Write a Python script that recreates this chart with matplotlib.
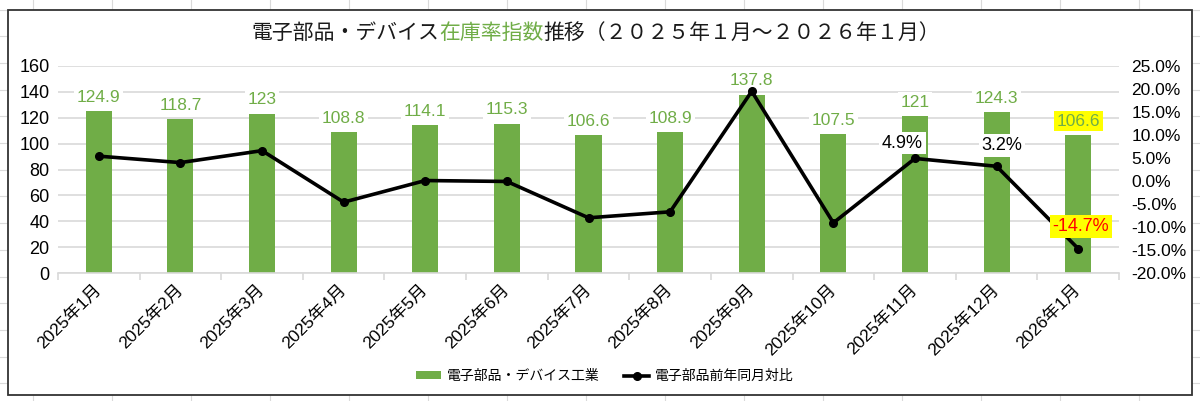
import matplotlib
matplotlib.use('Agg')
import matplotlib.pyplot as plt
from matplotlib.patches import Rectangle
from matplotlib.lines import Line2D
from matplotlib.ticker import FuncFormatter, MultipleLocator, FixedLocator

plt.rcParams['font.family'] = ['Liberation Sans', 'Noto Sans CJK JP', 'DejaVu Sans']

months = ['2025年1月', '2025年2月', '2025年3月', '2025年4月', '2025年5月', '2025年6月',
          '2025年7月', '2025年8月', '2025年9月', '2025年10月', '2025年11月', '2025年12月',
          '2026年1月']
index_values = [124.9, 118.7, 123, 108.8, 114.1, 115.3, 106.6, 108.9, 137.8, 107.5, 121, 124.3, 106.6]
yoy_values = [5.4, 4.0, 6.6, -4.6, 0.1, -0.1, -8.0, -6.7, 19.5, -9.1, 4.9, 3.2, -14.7]
yoy_shown = [10, 11, 12]  # months whose YoY value is labelled

bar_name = '電子部品・デバイス工業'
line_name = '電子部品前年同月対比'
title_parts = ['電子部品・デバイス', '在庫率指数', '推移（２０２５年１月～２０２６年１月）']

GREEN = '#70AD47'
GRID = '#D9D9D9'
W, H = 1200, 401


def main():
    fig = plt.figure(figsize=(12, 4.01), dpi=100)

    # spreadsheet cells behind the chart
    for k in range(16):
        x = (32.5 + 79 * k) / W
        fig.add_artist(Line2D([x, x], [0, 1], transform=fig.transFigure,
                              color='#DADADA', lw=0.8, zorder=0))
    for k in range(16):
        y = 1 - (9.6 + 26.7 * k) / H
        fig.add_artist(Line2D([0, 1], [y, y], transform=fig.transFigure,
                              color='#DADADA', lw=0.8, zorder=0))
    fig.add_artist(Rectangle((8 / W, 1 - 395 / H), 1184 / W, 385 / H,
                             transform=fig.transFigure, facecolor='white',
                             edgecolor='#333333', lw=1.3, zorder=0.5))

    ax = fig.add_axes([58 / W, 1 - 273 / H, 1061 / W, 207 / H])
    ax.set_zorder(2)
    ax.patch.set_visible(False)
    x = list(range(len(months)))

    ax.bar(x, index_values, width=0.32, color=GREEN, zorder=2, label=bar_name)
    ax.set_ylim(0, 160)
    ax.set_xlim(-0.5, len(months) - 0.5)
    ax.yaxis.set_major_locator(MultipleLocator(20))
    ax.grid(axis='y', color=GRID, lw=1.2, zorder=0)
    ax.set_axisbelow(True)
    for s in ['top', 'left', 'right']:
        ax.spines[s].set_visible(False)
    ax.spines['bottom'].set_color(GRID)
    ax.spines['bottom'].set_linewidth(1.2)
    ax.tick_params(axis='y', length=0, labelsize=13, pad=6)
    ax.set_xticks(x)
    ax.set_xticklabels(months, rotation=45, ha='right', va='center',
                       rotation_mode='anchor', fontsize=12.5)
    ax.tick_params(axis='x', length=0, pad=10)
    ax.xaxis.set_minor_locator(FixedLocator([i - 0.5 for i in range(len(months) + 1)]))
    ax.tick_params(axis='x', which='minor', length=5, color=GRID, width=1.2)

    for i, v in enumerate(index_values):
        face = '#FFFF00' if i == len(index_values) - 1 else 'white'
        ax.annotate(f'{v:g}', (i, v), xytext=(0, 10), textcoords='offset points',
                    ha='center', va='center', color=GREEN, fontsize=12.5, zorder=3,
                    bbox=dict(boxstyle='square,pad=0.15', fc=face, ec='none'))

    ax2 = ax.twinx()
    ax2.set_zorder(3)
    ax2.patch.set_visible(False)
    ax2.plot(x, yoy_values, color='black', lw=2.6, marker='o', markersize=5.5,
             label=line_name, zorder=3)
    ax2.set_ylim(-20, 25)
    ax2.yaxis.set_major_locator(MultipleLocator(5))
    ax2.yaxis.set_major_formatter(FuncFormatter(lambda v, p: f'{v:.1f}%'))
    ax2.tick_params(axis='y', length=0, labelsize=12.5, pad=9)
    for s in ['top', 'left', 'right', 'bottom']:
        ax2.spines[s].set_visible(False)

    offsets = {10: (-9, 11), 11: (4, 15), 12: (2, 16)}
    for i in yoy_shown:
        last = i == len(yoy_values) - 1
        ax2.annotate(f'{yoy_values[i]:.1f}%', (i, yoy_values[i]), xytext=offsets[i],
                     textcoords='offset points', ha='center', va='center',
                     color='red' if last else 'black', fontsize=13, zorder=4,
                     bbox=dict(boxstyle='square,pad=0.15',
                               fc='#FFFF00' if last else 'white', ec='none'))

    h1, l1 = ax.get_legend_handles_labels()
    h2, l2 = ax2.get_legend_handles_labels()
    fig.legend(h1 + h2, l1 + l2, loc='center', bbox_to_anchor=(0.504, 1 - 376 / H),
               ncol=2, frameon=False, fontsize=10, handlelength=1.8,
               handleheight=0.5, columnspacing=1.8, handletextpad=0.4)

    # title in three colours
    colors = ['#1a1a1a', GREEN, '#1a1a1a']
    texts = [fig.text(0, 1 - 33 / H, t, fontsize=15, color=c, va='center',
                      family=['Noto Sans CJK JP', 'DejaVu Sans'])
             for t, c in zip(title_parts, colors)]
    fig.canvas.draw()
    r = fig.canvas.get_renderer()
    widths = [t.get_window_extent(r).width for t in texts]
    start = 596 - sum(widths) / 2
    for t, w in zip(texts, widths):
        t.set_x(start / W)
        start += w

    plt.savefig('out.png', dpi=100)


if __name__ == '__main__':
    main()
